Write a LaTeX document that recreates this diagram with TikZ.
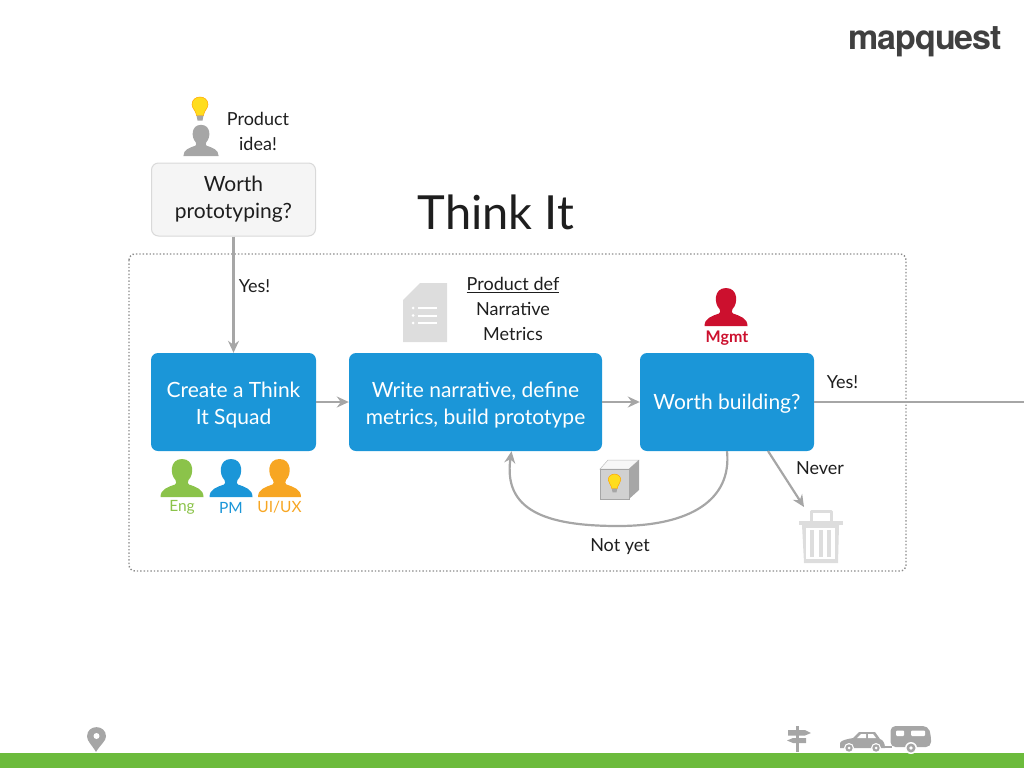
\documentclass[tikz,border=0pt]{standalone}
\usepackage{fontspec}
\setmainfont{Lato}
\newfontfamily\logofont[LetterSpace=-3]{TeX Gyre Heros}
\usetikzlibrary{arrows, arrows.meta, positioning}
\definecolor{mqblue}{RGB}{27, 150, 216}
\definecolor{mqgray}{RGB}{166, 166, 166}
\definecolor{mqlight}{RGB}{221, 221, 221}
\definecolor{mqgreen}{RGB}{108, 187, 60}
\definecolor{mqeng}{RGB}{139, 195, 74}
\definecolor{mqorange}{RGB}{247, 166, 35}
\definecolor{mqred}{RGB}{204, 16, 46}
\definecolor{mqtext}{RGB}{30, 30, 30}
\definecolor{mqbulb}{RGB}{255, 221, 30}
\newcommand\mqlift[1]{\rule{0pt}{#1pt}}
\tikzset{
	stepbox/.style={fill=mqblue, rounded corners=7pt, text=white, align=center, inner sep=0pt,
		font=\fontsize{21}{27}\selectfont, minimum height=98pt},
	ideabox/.style={fill=black!4, draw=black!15, line width=1pt, rounded corners=7pt, align=center,
		inner sep=0pt, text=mqtext, font=\fontsize{21}{27}\selectfont, minimum width=164pt, minimum height=73pt},
	lbl/.style={text=mqtext, align=center, inner sep=0pt, font=\fontsize{18}{25}\selectfont},
	tag/.style={inner sep=0pt, font=\fontsize{15.5}{18}\selectfont},
	flow/.style={draw=mqgray, line width=2.2pt, -{Stealth[length=12pt,width=11pt,inset=4pt]}},
	personicon/.pic={
		\fill[pic actions] (-21.5,0) .. controls (-21.5,-8) and (-14,-10) .. (-7,-12.5)
			.. controls (-5.5,-13) and (-5.5,-15) .. (-6.5,-17)
			.. controls (-12,-22) and (-12.5,-38) .. (0,-38)
			.. controls (12.5,-38) and (12,-22) .. (6.5,-17)
			.. controls (5.5,-15) and (5.5,-13) .. (7,-12.5)
			.. controls (14,-10) and (21.5,-8) .. (21.5,0) -- cycle;
	},
	bulbicon/.pic={
		\fill[mqbulb, draw=orange!70!yellow, line width=.5pt] (-3.5,18) .. controls (-4,13) and (-8,11) .. (-8,7)
			.. controls (-8,-3) and (8,-3) .. (8,7) .. controls (8,11) and (4,13) .. (3.5,18) -- cycle;
		\fill[mqgray] (-3.5,18) -- (3.5,18) -- (2.5,23) -- (-2.5,23) -- cycle;
	}
}
\begin{document}
\begin{tikzpicture}[x=1pt,y=-1pt]
	\useasboundingbox (0,0) rectangle (1024,768);

	\node[inner sep=0pt, text=black!75, font=\fontsize{34}{34}\logofont\bfseries] (logo) at (925,42) {mapquest};
	\node[inner sep=0pt, text=mqtext, font=\fontsize{47}{47}\selectfont] (title) at (496,212) {Think It};

	\draw[draw=black!45, dotted, line width=1.4pt, rounded corners=6pt] (129,254) rectangle (906,571);

	% boxes
	\node[ideabox] (idea) at (233.5,199.5) {Worth\\prototyping?};
	\node[stepbox, minimum width=165pt] (squad) at (233.5,402) {\mqlift{21}Create a Think\\It Squad};
	\node[stepbox, minimum width=253pt] (write) at (475.5,402) {\mqlift{21}Write narrative, define\\metrics, build prototype};
	\node[stepbox, minimum width=174pt] (worth) at (727,402) {\mqlift{19}Worth building?};
	\coordinate (exit) at (1024,402);
	\coordinate (neverstart) at (768,451);
	\coordinate (trashtop) at (804,507);

	% connectors
	\draw[flow] (idea.south) -- (squad.north);
	\draw[flow] (squad.east) -- (write.west);
	\draw[flow] (write.east) -- (worth.west);
	\draw[draw=mqgray, line width=2.2pt] (worth.east) -- (exit);
	\draw[flow] (neverstart) -- (trashtop);
	\draw[flow] (worth.south) .. controls (732,500) and (690,526) .. (618,526)
		.. controls (545,526) and (503,510) .. ([xshift=36pt]write.south);

	% labels
	\node[lbl] (ideatext) at (258,131) {Product\\idea!};
	\node[lbl] (yesleft) at (254.5,286.5) {Yes!};
	\node[lbl] (proddef) at (513,309) {\underline{Product def}\\Narrative\\Metrics};
	\node[lbl] (yesright) at (842.5,382.5) {Yes!};
	\node[lbl] (never) at (820,468.5) {Never};
	\node[lbl] (notyet) at (620,547) {Not yet};

	% people
	\pic[fill=mqgray, scale=.82] at (201,156) {personicon};
	\pic at (200,97.5) {bulbicon};
	\pic[fill=mqred] at (726,326) {personicon};
	\node[tag, text=mqred, font=\fontsize{16}{18}\selectfont\bfseries] (mgmt) at (727,338) {Mgmt};
	\foreach \x/\c/\t/\n in {182/mqeng/Eng/eng, 231/mqblue/PM/pm, 279.5/mqorange/UI\slash UX/uiux}
	{
		\pic[fill=\c] at (\x,497) {personicon};
		\node[tag, text=\c] (\n) at (\x,507.5) {\t};
	}

	% document
	\fill[mqlight] (420,283) -- (447,283) -- (447,342) -- (403,342) -- (403,300) -- cycle;
	\foreach \y in {308,315.5,323}
	{
		\draw[white, line width=2pt] (418,\y) -- (437,\y);
		\fill[white] (413,\y) circle (1.5);
	}

	% cube
	\fill[black!3, draw=black!25, line width=.5pt] (600,469) -- (608,460) -- (639,460) -- (629,469) -- cycle;
	\fill[mqgray] (629,469) -- (639,460) -- (639,490) -- (629,499) -- cycle;
	\fill[black!18, draw=mqgray, line width=.7pt] (600,469) rectangle (629,499);
	\pic[scale=.78] at (614.5,474.5) {bulbicon};

	% trash
	\draw[mqlight, line width=3pt, line join=round] (811,522) -- (811,511) -- (831,511) -- (831,522);
	\fill[mqlight] (799,521) -- (843,521) -- (843,525) -- (799,525) -- cycle;
	\fill[mqlight] (802,525) -- (839,525) -- (838,563) -- (804,563) -- cycle;
	\fill[white] (806,528) rectangle (835,559);
	\foreach \x in {812,820.5,829}
		\fill[mqlight] (\x-2,530) rectangle (\x+2,557);

	% footer
	\fill[mqgreen] (0,753) rectangle (1024,768);
	\fill[mqgray] (96,752) .. controls (92,745) and (87,741) .. (87,736.5)
		.. controls (87,724) and (106,724) .. (106,736.5)
		.. controls (106,741) and (100,745) .. (96,752) -- cycle;
	\fill[white] (96.5,736) circle (3);

	% signpost
	\fill[mqgray] (795.5,726) rectangle (799,752);
	\fill[mqgray] (788,730) -- (805,730) -- (811,733) -- (805,735.5) -- (788,735.5) -- cycle;
	\fill[mqgray] (793,738) -- (806,738) -- (806,743) -- (793,743) -- (787,740.5) -- cycle;

	% car
	\fill[mqgray] (840,748) -- (840,743) .. controls (841,740) and (848,739) .. (853,738)
		-- (859,732) -- (875,732) -- (880,739) .. controls (883,740) and (885,743) .. (885,748) -- cycle;
	\fill[white] (857,738) -- (861,734) -- (866,734) -- (866,738) -- cycle;
	\fill[white] (868,734) -- (873,734) -- (876,738) -- (868,738) -- cycle;
	\foreach \x in {849,876}
	{
		\fill[white] (\x,748) circle (5);
		\fill[mqgray] (\x,748) circle (3.7);
		\fill[white] (\x,748) circle (1.5);
	}
	\draw[mqgray, line width=1.2pt] (885,747) -- (892,747);

	% trailer
	\fill[mqgray, rounded corners=5pt] (890.5,747) -- (890.5,726) -- (928,726) -- (931,735) -- (931,747) -- cycle;
	\fill[white, rounded corners=1pt] (896,730.5) rectangle (904,736);
	\fill[white, rounded corners=1pt] (911,730.5) rectangle (925,736);
	\fill[white] (911,748) circle (6);
	\fill[mqgray] (911,748) circle (4.5);
	\fill[white] (911,748) circle (1.8);
\end{tikzpicture}
\end{document}
